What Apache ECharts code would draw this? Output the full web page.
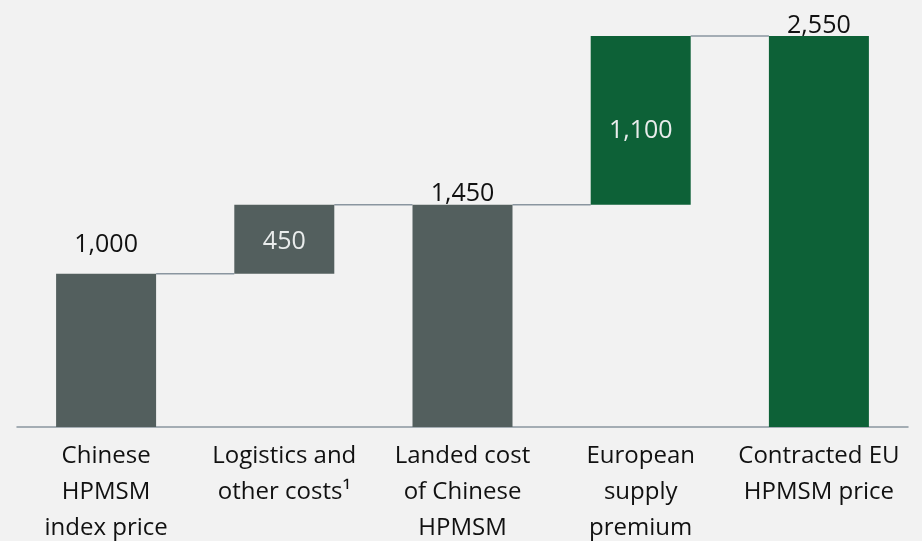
<!DOCTYPE html>
<html>
<head>
<meta charset="utf-8">
<script src="https://cdn.jsdelivr.net/npm/echarts@6/dist/echarts.min.js"></script>
<style>
  html, body { margin: 0; padding: 0; background: #f2f2f2; }
  #chart { width: 922px; height: 541px; }
</style>
</head>
<body>
<div id="chart"></div>
<script>
// Waterfall steps from the Chinese index price to the contracted EU price
const categories = [
  'Chinese\nHPMSM\nindex price',
  'Logistics and\nother costs¹',
  'Landed cost\nof Chinese\nHPMSM',
  'European\nsupply\npremium',
  'Contracted EU\nHPMSM price'
];
const stepValues = [1000, 450, 1450, 1100, 2550];
const stepBases = [0, 1000, 0, 1450, 0];
const stepKinds = ['total', 'delta', 'total', 'delta', 'total'];
const stepColors = ['#535f5e', '#535f5e', '#535f5e', '#0d6137', '#0d6137'];
// running total each connector line sits at, between step i and i+1
const connectorLevels = [1000, 1450, 1450, 2550];

const BAR_W = 100;
const FONT = '"Open Sans", "Noto Sans", sans-serif';

const fmt = v => v.toLocaleString('en-US');

const valueData = stepValues.map((v, i) => {
  const inside = stepKinds[i] === 'delta';
  return {
    value: v,
    itemStyle: { color: stepColors[i] },
    label: inside
      ? { position: 'inside', color: '#e9ecec', offset: [0, i === 3 ? 11 : 3] }
      : { position: 'top', color: '#111111', distance: i === 0 ? 16 : -2 }
  };
});

const chart = echarts.init(document.getElementById('chart'), null, { renderer: 'canvas' });
chart.setOption({
  backgroundColor: '#f2f2f2',
  animation: false,
  grid: { left: 17, right: 14, top: 36, bottom: 114, containLabel: false, outerBoundsMode: 'none' },
  xAxis: {
    type: 'category',
    data: categories,
    axisLine: { lineStyle: { color: '#8a96a0', width: 1.5 } },
    axisTick: { show: false },
    axisLabel: {
      interval: 0,
      margin: 11,
      color: '#111111',
      fontFamily: FONT,
      fontSize: 24,
      lineHeight: 36
    }
  },
  yAxis: { type: 'value', min: 0, max: 2550, show: false, splitLine: { show: false } },
  series: [
    {
      type: 'bar',
      stack: 'wf',
      barWidth: BAR_W,
      data: stepBases,
      itemStyle: { color: 'transparent' },
      emphasis: { disabled: true },
      silent: true
    },
    {
      type: 'bar',
      stack: 'wf',
      barWidth: BAR_W,
      data: valueData,
      label: {
        show: true,
        fontFamily: FONT,
        fontSize: 25,
        formatter: p => fmt(p.value)
      }
    },
    {
      type: 'custom',
      silent: true,
      data: connectorLevels.map((lvl, i) => [i, lvl]),
      renderItem: (params, api) => {
        const i = api.value(0);
        const lvl = api.value(1);
        const a = api.coord([i, lvl]);
        const b = api.coord([i + 1, lvl]);
        return {
          type: 'line',
          shape: { x1: a[0] + BAR_W / 2, y1: a[1], x2: b[0] - BAR_W / 2, y2: b[1] },
          style: { stroke: '#8a96a0', lineWidth: 1.5 }
        };
      },
      z: 1
    }
  ]
});
</script>
</body>
</html>
